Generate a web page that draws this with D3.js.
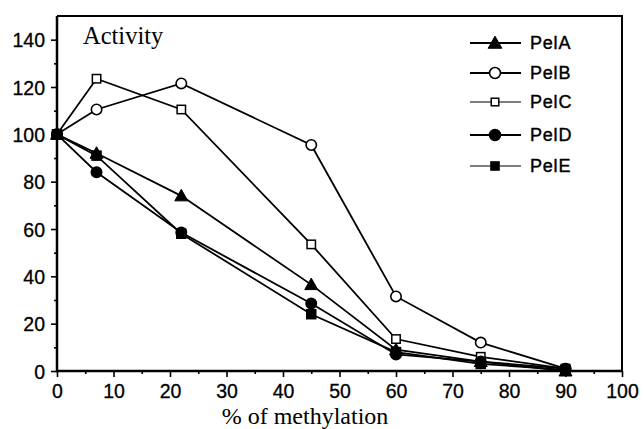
<!DOCTYPE html>
<html>
<head>
<meta charset="utf-8">
<script src="https://cdn.jsdelivr.net/npm/d3@7"></script>
<style>
  body { margin: 0; background: #fff; }
  svg { display: block; }
</style>
</head>
<body>
<svg id="chart" width="644" height="429"></svg>
<script>
// methylation levels (x) and activity for each Pel
var methylation = [0, 7, 22, 45, 60, 75, 90];
var pelA = [100, 92, 74, 36.5, 9, 4, 0];
var pelB = [100, 110.5, 121.5, 95.5, 31.5, 12, 1];
var pelC = [100, 123.5, 110.5, 53.5, 13.5, 6, 1];
var pelD = [100, 84, 58.5, 28.5, 7, 4, 1];
var pelE = [100, 91, 58, 24, 8, 3, 0.5];
var seriesNames = ["PelA", "PelB", "PelC", "PelD", "PelE"];
var xTicks = [0, 10, 20, 30, 40, 50, 60, 70, 80, 90, 100];
var yTicks = [0, 20, 40, 60, 80, 100, 120, 140];

var series = [
  {name: "PelA", values: pelA, shape: "triangle", fill: "#000"},
  {name: "PelB", values: pelB, shape: "circle", fill: "#fff"},
  {name: "PelC", values: pelC, shape: "square", fill: "#fff"},
  {name: "PelD", values: pelD, shape: "circle", fill: "#000"},
  {name: "PelE", values: pelE, shape: "square", fill: "#000"}
];

var svg = d3.select("#chart");
var x = d3.scaleLinear().domain([0, 100]).range([57, 622]);
var y = d3.scaleLinear().domain([0, 150]).range([371, 16]);

// frame (top and right)
svg.append("path")
  .attr("d", "M" + x(0) + "," + y(150) + "H" + x(100) + "V" + y(0))
  .attr("fill", "none").attr("stroke", "#000").attr("stroke-width", 2);

// minor ticks
var gx = svg.append("g").attr("transform", "translate(0," + y(0) + ")");
gx.call(d3.axisBottom(x).tickValues(d3.range(5, 100, 10)).tickSize(3).tickFormat(""));
var gy = svg.append("g").attr("transform", "translate(" + x(0) + ",0)");
gy.call(d3.axisLeft(y).tickValues(d3.range(10, 150, 20)).tickSize(3).tickFormat(""));

// major axes
var ax = svg.append("g").attr("transform", "translate(0," + y(0) + ")")
  .call(d3.axisBottom(x).tickValues(xTicks).tickSize(6).tickSizeOuter(0).tickPadding(7));
var ay = svg.append("g").attr("transform", "translate(" + x(0) + ",0)")
  .call(d3.axisLeft(y).tickValues(yTicks).tickSize(6).tickSizeOuter(0).tickPadding(6));

svg.selectAll(".domain").remove();
svg.selectAll(".tick line").attr("stroke", "#000").attr("stroke-width", 1.6);
svg.selectAll(".tick text").attr("font-family", "Liberation Sans").attr("font-size", 19.5)
  .attr("fill", "#000").attr("stroke", "#000").attr("stroke-width", 0.3);
ay.selectAll(".tick text").attr("dy", "0.36em");

svg.append("line").attr("x1", x(0)).attr("x2", x(0)).attr("y1", y(150)).attr("y2", y(0) + 1)
  .attr("stroke", "#000").attr("stroke-width", 2.5);
svg.append("line").attr("x1", x(0) - 1).attr("x2", x(100)).attr("y1", y(0)).attr("y2", y(0))
  .attr("stroke", "#000").attr("stroke-width", 2.5);

// lines
var line = d3.line().x(function(d, i) { return x(methylation[i]); }).y(function(d) { return y(d); });
series.forEach(function(s) {
  svg.append("path").attr("d", line(s.values))
    .attr("fill", "none").attr("stroke", "#000").attr("stroke-width", 1.8);
});

function marker(g, shape, fill, cx, cy, k) {
  k = k || 1;
  if (shape === "circle") {
    g.append("circle").attr("cx", cx).attr("cy", cy).attr("r", 5.2 * k)
      .attr("fill", fill).attr("stroke", "#000").attr("stroke-width", 1.6);
  } else if (shape === "square") {
    var h = (fill === "#fff" ? 4.2 : 4.5) * k;
    g.append("rect").attr("x", cx - h).attr("y", cy - h).attr("width", 2 * h).attr("height", 2 * h)
      .attr("fill", fill).attr("stroke", "#000").attr("stroke-width", 1.5);
  } else {
    g.append("path")
      .attr("d", "M" + cx + "," + (cy - 6.5 * k) + "L" + (cx + 6.5 * k) + "," + (cy + 5 * k) + "L" + (cx - 6.5 * k) + "," + (cy + 5 * k) + "Z")
      .attr("fill", fill).attr("stroke", "#000").attr("stroke-width", 1);
  }
}

var gm = svg.append("g");
series.forEach(function(s) {
  s.values.forEach(function(v, i) { marker(gm, s.shape, s.fill, x(methylation[i]), y(v)); });
});

// legend
var legendY = [43, 73, 102, 135, 166];
var lg = svg.append("g");
series.forEach(function(s, i) {
  var ly = legendY[i];
  lg.append("line").attr("x1", 470).attr("x2", 521).attr("y1", ly).attr("y2", ly)
    .attr("stroke", "#000").attr("stroke-width", s.fill === "#fff" && s.shape === "square" || s.name === "PelE" ? 1.2 : 1.8);
  marker(lg, s.shape, s.fill, 495, ly, s.shape === "square" ? 0.9 : 1.05);
  lg.append("text").attr("x", 530).attr("y", ly + 6).text(seriesNames[i])
    .attr("font-family", "Liberation Sans").attr("font-size", 18).attr("letter-spacing", 0.8)
    .attr("fill", "#000").attr("stroke", "#000").attr("stroke-width", 0.4);
});

// titles
svg.append("text").attr("x", 83).attr("y", 44).text("Activity")
  .attr("font-family", "Liberation Serif").attr("font-size", 24.5).attr("fill", "#000");
svg.append("text").attr("x", 305).attr("y", 424).attr("text-anchor", "middle").text("% of methylation")
  .attr("font-family", "Liberation Serif").attr("font-size", 24).attr("fill", "#000");
</script>
</body>
</html>
